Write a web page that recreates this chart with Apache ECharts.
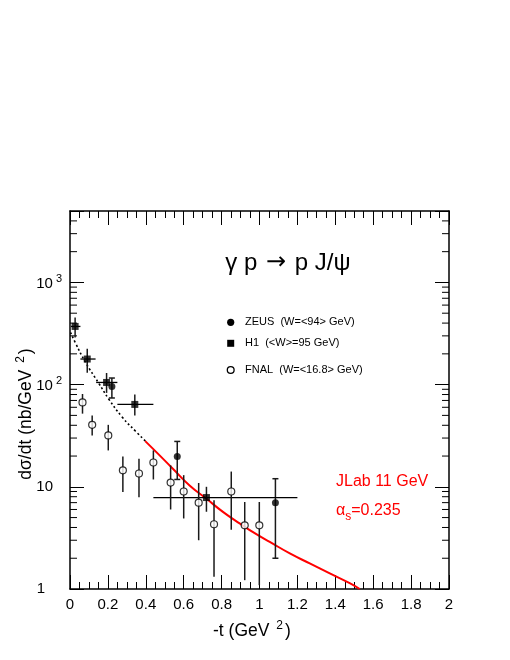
<!DOCTYPE html>
<html>
<head>
<meta charset="utf-8">
<script src="https://cdn.jsdelivr.net/npm/echarts@6/dist/echarts.min.js"></script>
<style>
html,body{margin:0;padding:0;background:#fff;}
#c{width:510px;height:660px;}
</style>
</head>
<body>
<div id="c"></div>
<script>
// ---- data ----
const xTicks = [0, 0.2, 0.4, 0.6, 0.8, 1, 1.2, 1.4, 1.6, 1.8, 2];
const yDecades = [1, 10, 100, 1000];
const yMinorTicks = [2,3,4,5,6,7,8,9,20,30,40,50,60,70,80,90,200,300,400,500,600,700,800,900,2000,3000,4000];

// ZEUS (filled circles, capped error bars)
const zeusT  = [0.221, 0.566, 1.084];
const zeusV  = [96, 19.8, 7.0];
const zeusLo = [74, 11.8, 2.0];
const zeusHi = [116, 27.8, 12.0];

// H1 (filled squares, with t-bin bars)
const h1T   = [0.027, 0.091, 0.193, 0.342, 0.72];
const h1V   = [371, 178, 105, 64, 7.85];
const h1Lo  = [289, 131, 83, 50, 5.7];
const h1Hi  = [454, 224, 130, 80, 10.0];
const h1TLo = [0.005, 0.055, 0.138, 0.25, 0.44];
const h1THi = [0.055, 0.135, 0.25, 0.44, 1.2];

// FNAL (open circles)
const fnalT  = [0.066, 0.117, 0.202, 0.279, 0.364, 0.44, 0.531, 0.60, 0.679, 0.76, 0.851, 0.922, 0.999];
const fnalV  = [67, 40.4, 31.8, 14.5, 13.5, 17.3, 11.0, 9.0, 7.0, 4.3, 9.0, 4.2, 4.2];
const fnalLo = [52, 31.8, 22.7, 8.9, 7.9, 11.8, 6.0, 4.9, 3.0, 1.32, 3.8, 1.22, 1.09];
const fnalHi = [81, 49.9, 40.4, 19.8, 18.8, 22.7, 16.2, 13.0, 10.9, 7.4, 14.1, 7.1, 7.1];

// dotted extrapolation curve
const dotT = [0.003, 0.029, 0.082, 0.152, 0.205, 0.276, 0.346, 0.40];
const dotV = [324, 255, 165, 103, 72, 48, 35, 27.8];

// JLab 11 GeV prediction (red)
const redT = [0.397, 0.473, 0.543, 0.631, 0.719, 0.807, 0.895, 0.992, 1.054, 1.16, 1.265, 1.371, 1.476, 1.529];
const redV = [28.0, 20.3, 15.0, 10.3, 7.67, 5.68, 4.38, 3.36, 2.89, 2.23, 1.78, 1.42, 1.14, 1.0];

// ---- chart ----
const FONT = '"Liberation Sans", Arial, Helvetica, sans-serif';
const chart = echarts.init(document.getElementById('c'), null, {renderer: 'canvas'});

function zip(a, b) { return a.map((v, i) => [v, b[i]]); }

const errData = [];
zeusT.forEach((t, i) => errData.push([t, zeusV[i], zeusLo[i], zeusHi[i], t, t, 1]));
h1T.forEach((t, i) => errData.push([t, h1V[i], h1Lo[i], h1Hi[i], h1TLo[i], h1THi[i], 0]));
fnalT.forEach((t, i) => errData.push([t, fnalV[i], fnalLo[i], fnalHi[i], t, t, 0]));

const xAxisBase = {
  type: 'value', min: 0, max: 2, interval: 0.2,
  axisLine: {show: true, onZero: false, lineStyle: {color: '#000', width: 1.5}},
  axisTick: {show: true, inside: true, length: 14, lineStyle: {color: '#000', width: 1}},
  minorTick: {show: true, splitNumber: 4, length: 7, lineStyle: {color: '#000', width: 1}},
  splitLine: {show: false}, minorSplitLine: {show: false}
};
const yAxisBase = {
  type: 'log', logBase: 10, min: 1, max: 5000,
  axisLine: {show: true, onZero: false, lineStyle: {color: '#000', width: 1.5}},
  axisTick: {show: true, inside: true, length: 14, lineStyle: {color: '#000', width: 1}},
  splitLine: {show: false}
};

const supRich = {
  b: {fontSize: 15, fontFamily: FONT, color: '#000', lineHeight: 18, verticalAlign: 'bottom'},
  s: {fontSize: 11, fontFamily: FONT, color: '#000', lineHeight: 11, verticalAlign: 'top', padding: [0, 0, 0, 3]},
  p9: {fontSize: 15, fontFamily: FONT, color: '#000', padding: [0, 9, 0, 0]},
  p17: {fontSize: 15, fontFamily: FONT, color: '#000', padding: [0, 17, 0, 0]}
};

const titleRich = {
  b: {fontSize: 17.5, fontFamily: FONT, fill: '#000', color: '#000', lineHeight: 20, verticalAlign: 'bottom'},
  s: {fontSize: 12, fontFamily: FONT, fill: '#000', color: '#000', lineHeight: 12, verticalAlign: 'top', padding: [0, 2, 0, 2]}
};

const option = {
  animation: false,
  backgroundColor: '#fff',
  grid: {left: 70, top: 211, width: 379, height: 378, containLabel: false},
  xAxis: [
    Object.assign({}, xAxisBase, {
      position: 'bottom',
      axisLabel: {
        show: true, margin: 8, fontSize: 15, fontFamily: FONT, color: '#000',
        formatter: function (v) {
          const r = Math.round(v * 10) / 10;
          return (r === 0 || r === 1 || r === 2) ? String(r) : r.toFixed(1);
        }
      }
    }),
    Object.assign({}, xAxisBase, {position: 'top', axisLabel: {show: false}})
  ],
  yAxis: [
    Object.assign({}, yAxisBase, {
      position: 'left',
      axisLabel: {
        show: true, margin: 8, fontFamily: FONT, color: '#000',
        formatter: function (v) {
          const r = Math.round(v);
          if (r === yDecades[0]) return '{p17|1}';
          if (r === yDecades[1]) return '{p9|10}';
          if (r === yDecades[2]) return '{b|10}{s|2}';
          if (r === yDecades[3]) return '{b|10}{s|3}';
          return '';
        },
        rich: supRich
      }
    }),
    Object.assign({}, yAxisBase, {position: 'right', axisLabel: {show: false}})
  ],
  series: [
    {
      type: 'custom', name: 'yMinor', silent: true, z: 1,
      data: yMinorTicks.map(v => [0, v]),
      encode: {x: 0, y: 1},
      renderItem: function (params, api) {
        const v = api.value(1);
        const l = api.coord([0, v]);
        const r = api.coord([2, v]);
        return {type: 'group', children: [
          {type: 'line', shape: {x1: l[0], y1: l[1], x2: l[0] + 7, y2: l[1]}, style: {stroke: '#000', lineWidth: 1}},
          {type: 'line', shape: {x1: r[0] - 7, y1: r[1], x2: r[0], y2: r[1]}, style: {stroke: '#000', lineWidth: 1}}
        ]};
      }
    },
    {
      type: 'line', name: 'extrap', data: zip(dotT, dotV), smooth: true, showSymbol: false, z: 2,
      lineStyle: {color: '#000', width: 1.6, type: [2, 2.5]}
    },
    {
      type: 'line', name: 'JLab', data: zip(redT, redV), smooth: true, showSymbol: false, z: 2,
      lineStyle: {color: '#ff0000', width: 2}
    },
    {
      type: 'custom', name: 'errors', silent: true, z: 3,
      data: errData,
      encode: {x: 0, y: 1},
      renderItem: function (params, api) {
        const t = api.value(0), v = api.value(1), lo = api.value(2), hi = api.value(3);
        const tl = api.value(4), th = api.value(5), cap = api.value(6);
        const top = api.coord([t, hi]), bot = api.coord([t, lo]);
        const st = {stroke: '#1a1a1a', lineWidth: 1.5};
        const ch = [{type: 'line', shape: {x1: top[0], y1: top[1], x2: bot[0], y2: bot[1]}, style: st}];
        if (th > tl) {
          const a = api.coord([tl, v]), b = api.coord([th, v]);
          ch.push({type: 'line', shape: {x1: a[0], y1: a[1], x2: b[0], y2: b[1]}, style: {stroke: '#000', lineWidth: 1.3}});
        }
        if (cap) {
          ch.push({type: 'line', shape: {x1: top[0] - 3, y1: top[1], x2: top[0] + 3, y2: top[1]}, style: st});
          ch.push({type: 'line', shape: {x1: bot[0] - 3, y1: bot[1], x2: bot[0] + 3, y2: bot[1]}, style: st});
        }
        return {type: 'group', children: ch};
      }
    },
    {
      type: 'scatter', name: 'FNAL', data: zip(fnalT, fnalV), symbol: 'circle', symbolSize: 7, z: 4,
      itemStyle: {color: '#fff', borderColor: '#000', borderWidth: 1.2}
    },
    {
      type: 'scatter', name: 'ZEUS', data: zip(zeusT, zeusV), symbol: 'circle', symbolSize: 7, z: 4,
      itemStyle: {color: '#000'}
    },
    {
      type: 'scatter', name: 'H1', data: zip(h1T, h1V), symbol: 'rect', symbolSize: 7, z: 4,
      itemStyle: {color: '#000'}
    }
  ],
  graphic: [
    {type: 'text', x: 288, y: 263, style: {
      text: '{a|γ p }{r|→}{a| p J/ψ}', align: 'center', verticalAlign: 'middle',
      rich: {
        a: {fontSize: 24, fontFamily: FONT, fill: '#000', color: '#000'},
        r: {fontSize: 24, fontFamily: '"DejaVu Sans", sans-serif', fill: '#000', color: '#000', padding: [0, 2, 0, 2]}
      }
    }},
    {type: 'circle', shape: {cx: 230.7, cy: 322.3, r: 3.6}, style: {fill: '#000'}},
    {type: 'rect', shape: {x: 227.2, y: 339.8, width: 7, height: 7}, style: {fill: '#000'}},
    {type: 'circle', shape: {cx: 230.7, cy: 370, r: 3.4}, style: {fill: '#fff', stroke: '#000', lineWidth: 1.3}},
    {type: 'text', x: 245, y: 322.3, style: {text: 'ZEUS  (W=<94> GeV)', fontSize: 11, fontFamily: FONT, fill: '#000', align: 'left', verticalAlign: 'middle'}},
    {type: 'text', x: 245, y: 343.3, style: {text: 'H1  (<W>=95 GeV)', fontSize: 11, fontFamily: FONT, fill: '#000', align: 'left', verticalAlign: 'middle'}},
    {type: 'text', x: 245, y: 370, style: {text: 'FNAL  (W=<16.8> GeV)', fontSize: 11, fontFamily: FONT, fill: '#000', align: 'left', verticalAlign: 'middle'}},
    {type: 'text', x: 336, y: 482, style: {text: 'JLab 11 GeV', fontSize: 16, fontFamily: FONT, fill: '#ff0000', align: 'left', verticalAlign: 'middle'}},
    {type: 'text', x: 336, y: 513, style: {
      text: '{a|α}{s|s}{a|=0.235}', align: 'left', verticalAlign: 'middle',
      rich: {
        a: {fontSize: 16, fontFamily: FONT, fill: '#ff0000', color: '#ff0000', lineHeight: 20, verticalAlign: 'top'},
        s: {fontSize: 12, fontFamily: FONT, fill: '#ff0000', color: '#ff0000', lineHeight: 12, verticalAlign: 'bottom'}
      }
    }},
    {type: 'text', x: 213, y: 630, style: {
      text: '{b|-t (GeV }{s|2}{b|)}', align: 'left', verticalAlign: 'middle',
      rich: titleRich
    }},
    {type: 'text', x: 25, y: 414, rotation: Math.PI / 2, style: {
      text: '{b|dσ/dt (nb/GeV }{s|2}{b|)}', align: 'center', verticalAlign: 'middle',
      rich: titleRich
    }}
  ]
};
chart.setOption(option);
</script>
</body>
</html>
